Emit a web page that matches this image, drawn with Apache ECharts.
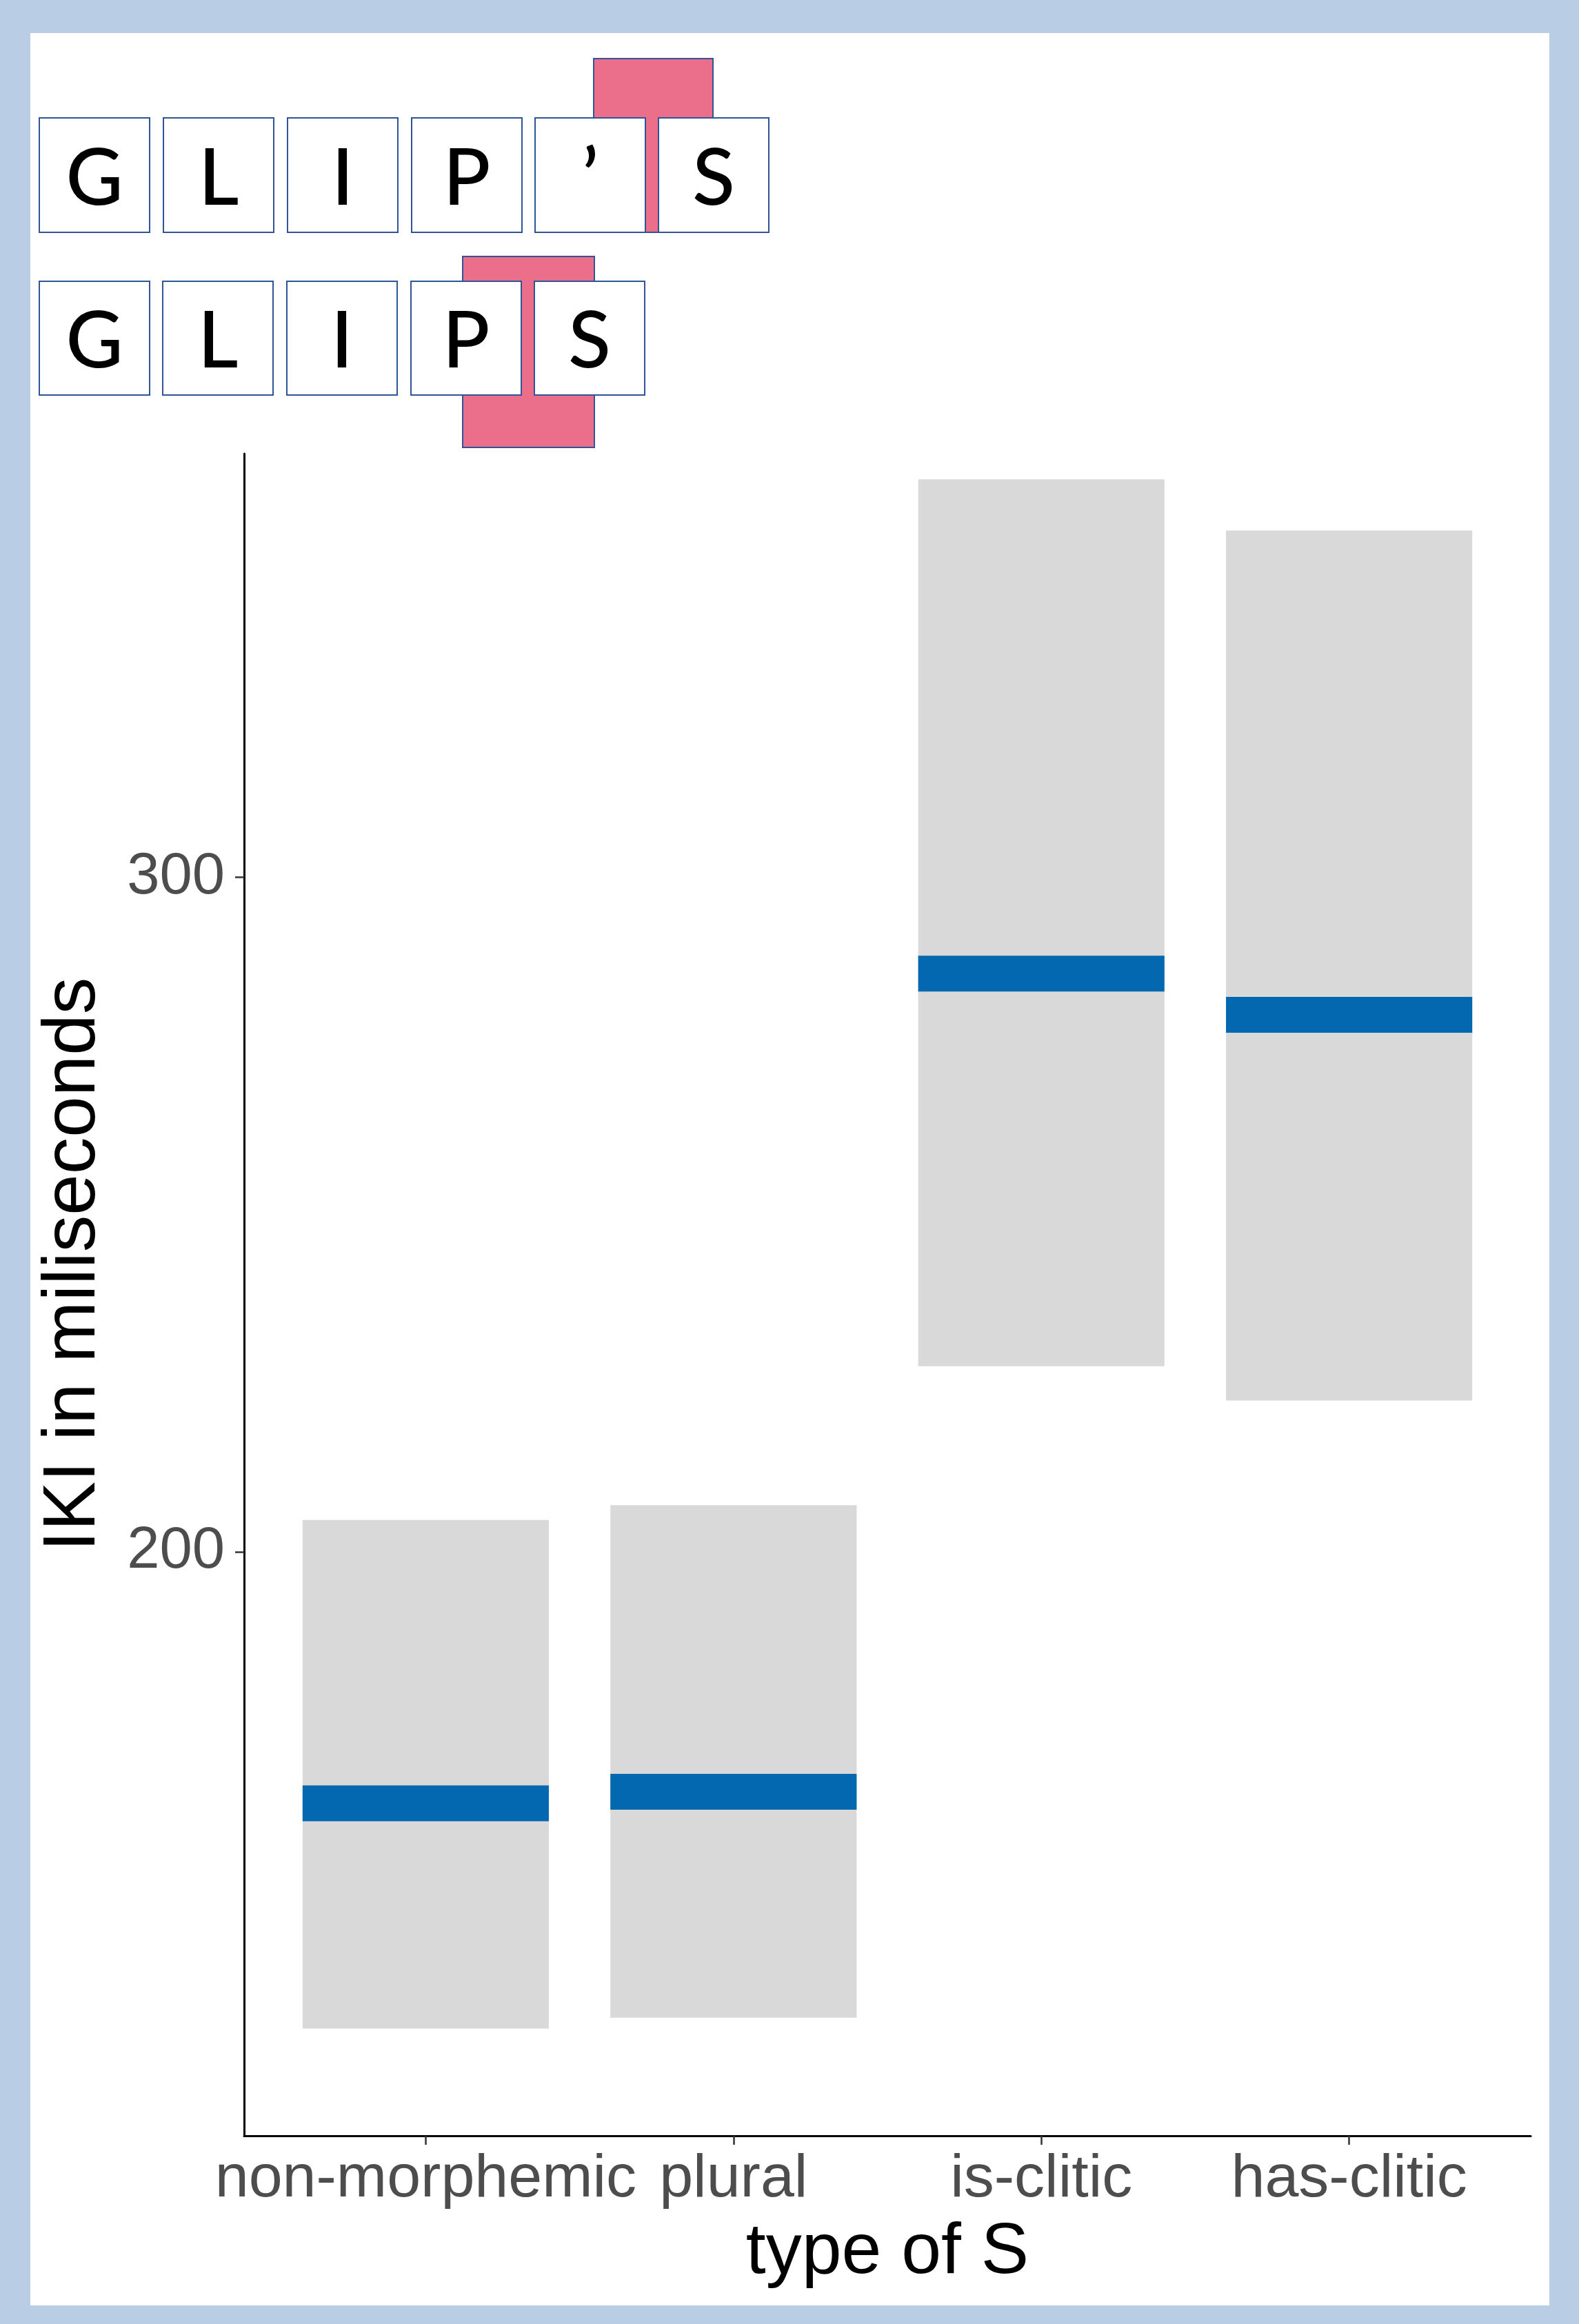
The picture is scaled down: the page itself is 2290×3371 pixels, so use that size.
<!DOCTYPE html>
<html>
<head>
<meta charset="utf-8">
<script src="https://cdn.jsdelivr.net/npm/echarts@6/dist/echarts.min.js"></script>
<style>
  html, body { margin: 0; padding: 0; background: #B9CDE5; }
  #chart { width: 2290px; height: 3371px; }
</style>
</head>
<body>
<div id="chart"></div>
<script>
// ---- data ----
const categories = ['non-morphemic', 'plural', 'is-clitic', 'has-clitic'];
const ciLow  = [129.3, 130.9, 227.5, 222.4];
const ciHigh = [204.7, 206.9, 359.0, 351.4];
const means  = [162.7, 164.4, 285.7, 279.6];
const yTicks = [200, 300];
const word1 = ['G', 'L', 'I', 'P', '\u2019', 'S'];
const word2 = ['G', 'L', 'I', 'P', 'S'];
const yTitle = 'IKI in miliseconds';
const xTitle = 'type of S';

const chart = echarts.init(document.getElementById('chart'), null, { renderer: 'canvas' });

const rows = categories.map((c, i) => [i, ciLow[i], ciHigh[i], means[i]]);

// letter boxes graphics
const boxStroke = '#2F5597';
const pink = '#EB6F8A';
const gfx = [];
gfx.push({ type: 'rect', z: -10, shape: { x: 44, y: 48, width: 2203, height: 3296 }, style: { fill: '#FFFFFF' } });
// pink markers (behind boxes)
gfx.push({ type: 'rect', z: 5, shape: { x: 861, y: 85, width: 173, height: 252 }, style: { fill: pink, stroke: boxStroke, lineWidth: 2 } });
gfx.push({ type: 'rect', z: 5, shape: { x: 671, y: 372, width: 191, height: 277 }, style: { fill: pink, stroke: boxStroke, lineWidth: 2 } });
const row1x = [57, 237, 417, 597, 776, 955];
const row2x = [57, 236, 416, 596, 775];
function addRow(letters, xs, y, h) {
  letters.forEach((ch, i) => {
    gfx.push({ type: 'rect', z: 6, shape: { x: xs[i], y: y, width: 160, height: h }, style: { fill: '#FFFFFF', stroke: boxStroke, lineWidth: 2 } });
    gfx.push({ type: 'text', z: 7, x: xs[i] + 80, y: y + h / 2 + 6,
      style: { text: ch, fill: '#000000', font: '500 114px Lato, "Open Sans", sans-serif', align: 'center', verticalAlign: 'middle' } });
  });
}
addRow(word1, row1x, 171, 166);
addRow(word2, row2x, 408, 165);
gfx.push({ type: 'text', z: 7, x: 107, y: 1834, rotation: Math.PI / 2,
  style: { text: yTitle, fill: '#000000', font: '107px "Liberation Sans", Arial, sans-serif', align: 'center', verticalAlign: 'middle' } });

const option = {
  backgroundColor: '#B9CDE5',
  animation: false,
  graphic: gfx,
  grid: { left: 354, right: 70, top: 658, bottom: 273, containLabel: false },
  xAxis: {
    type: 'value', min: -0.59, max: 3.59,
    splitLine: { show: false },
    axisLine: { show: true, onZero: false, lineStyle: { color: '#000', width: 3 } },
    axisTick: { show: true, length: 13, customValues: [0, 1, 2, 3], lineStyle: { color: '#333', width: 2.5 } },
    axisLabel: { customValues: [0, 1, 2, 3], formatter: v => categories[Math.round(v)], margin: 20,
      color: '#4D4D4D', fontSize: 88, fontFamily: '"Liberation Sans", Arial, sans-serif' },
    name: xTitle, nameLocation: 'middle', nameGap: 118,
    nameTextStyle: { color: '#000', fontSize: 104, fontFamily: '"Liberation Sans", Arial, sans-serif' }
  },
  yAxis: {
    type: 'value', min: 113.4, max: 362.8,
    splitLine: { show: false },
    axisLine: { show: true, onZero: false, lineStyle: { color: '#000', width: 3 } },
    axisTick: { show: true, length: 13, customValues: yTicks, lineStyle: { color: '#333', width: 2.5 } },
    axisLabel: { customValues: yTicks, margin: 28, color: '#4D4D4D', fontSize: 85, padding: [12, 0, 0, 0],
      fontFamily: '"Liberation Sans", Arial, sans-serif' }
  },
  series: [{
    type: 'custom',
    data: rows,
    encode: { x: 0, y: [1, 2, 3] },
    renderItem: function (params, api) {
      const x = api.value(0), lo = api.value(1), hi = api.value(2), m = api.value(3);
      const w = api.size([0.8, 0])[0];
      const pTop = api.coord([x, hi]);
      const pBot = api.coord([x, lo]);
      const pM = api.coord([x, m]);
      return {
        type: 'group',
        children: [
          { type: 'rect', shape: { x: pTop[0] - w / 2, y: pTop[1], width: w, height: pBot[1] - pTop[1] }, style: { fill: '#D9D9D9' } },
          { type: 'rect', shape: { x: pM[0] - w / 2, y: pM[1] - 26, width: w, height: 52 }, style: { fill: '#0468B1' } }
        ]
      };
    }
  }]
};
chart.setOption(option);
</script>
</body>
</html>
